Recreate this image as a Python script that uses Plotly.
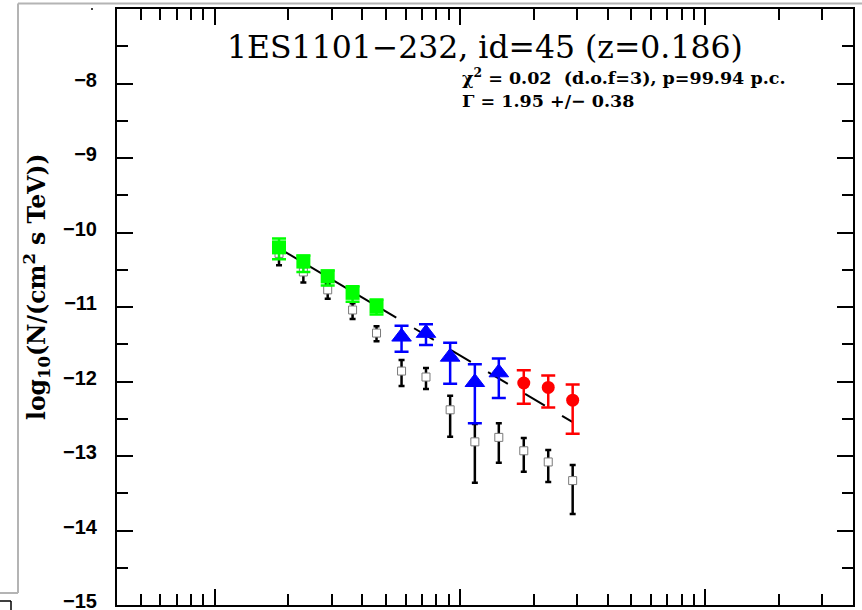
import numpy as np
import plotly.graph_objects as go

# Energy bins (TeV)
energy = [0.183, 0.230, 0.289, 0.365, 0.457, 0.578, 0.727, 0.912, 1.15, 1.44, 1.82, 2.29, 2.88]

# Observed spectrum, log10 flux
obs_flux = [-10.28, -10.53, -10.77, -11.04, -11.35, -11.86, -11.94, -12.38,
            -12.81, -12.75, -12.93, -13.08, -13.33]

# De-absorbed spectrum, split into three energy groups
green_flux = [-10.20, -10.39, -10.59, -10.81, -10.99]
blue_flux = [-11.40, -11.35, -11.67, -12.01, -11.88]
red_flux = [-12.02, -12.08, -12.25]

# Asymmetric log errors (same for observed and de-absorbed points)
err_up = [0.12, 0.08, 0.08, 0.09, 0.09, 0.15, 0.12, 0.19, 0.24, 0.19, 0.17, 0.16, 0.21]
err_dn = [0.16, 0.14, 0.12, 0.12, 0.11, 0.20, 0.16, 0.36, 0.55, 0.34, 0.28, 0.27, 0.45]

# Power-law fit: log10 N = norm_1TeV - gamma * log10(E / 1 TeV)
gamma = 1.95
norm_1tev = -11.65
fit_solid = (0.183, 0.55)
fit_dashed = (0.65, 2.87)

y_ticks = list(range(-15, -7))
y_ticklabels = ["<b>\u2212%d</b>" % (-v) for v in y_ticks]

title_text = "1ES1101\u2212232, id=45 (z=0.186)"
chi_text = "<b>\u03c7<sup>2</sup> = 0.02 \u00a0(d.o.f=3), p=99.94 p.c.</b>"
gamma_text = "<b>\u0393 = 1.95 +/\u2212 0.38</b>"
ylabel_text = "<b>log<sub>10</sub>(N/(cm<sup>2</sup> s TeV))</b>"

W, H = 862, 610
L, R, T, B = 117, 9, 9, 5
PW, PH = W - L - R, H - T - B


def px(x):
    return (x - L) / PW


def py(y):
    return (H - B - y) / PH


def powerlaw(e):
    return norm_1tev - gamma * np.log10(e)


fig = go.Figure()

fig.add_trace(go.Scatter(
    x=energy, y=obs_flux, mode="markers",
    marker=dict(symbol="square", size=8, color="white",
                line=dict(color="#7a7a7a", width=1)),
    error_y=dict(type="data", symmetric=False, array=err_up, arrayminus=err_dn,
                 color="black", thickness=2.5, width=3),
    showlegend=False,
))

e1 = np.logspace(np.log10(fit_solid[0]), np.log10(fit_solid[1]), 20)
fig.add_trace(go.Scatter(x=e1, y=powerlaw(e1), mode="lines",
                         line=dict(color="black", width=2), showlegend=False))
e2 = np.logspace(np.log10(fit_dashed[0]), np.log10(fit_dashed[1]), 40)
fig.add_trace(go.Scatter(x=e2, y=powerlaw(e2), mode="lines",
                         line=dict(color="black", width=2, dash="23px,20px"),
                         showlegend=False))

fig.add_trace(go.Scatter(
    x=energy[:5], y=green_flux, mode="markers",
    marker=dict(symbol="square", size=14, color="#00ff00"),
    error_y=dict(type="data", symmetric=False, array=err_up[:5], arrayminus=err_dn[:5],
                 color="#00ff00", thickness=2.5, width=7),
    showlegend=False,
))
fig.add_trace(go.Scatter(
    x=energy[5:10], y=blue_flux, mode="markers",
    marker=dict(symbol="triangle-up", size=17, color="#0000ff",
                line=dict(color="#0000ff", width=1)),
    error_y=dict(type="data", symmetric=False, array=err_up[5:10], arrayminus=err_dn[5:10],
                 color="#0000ff", thickness=2.5, width=7),
    showlegend=False,
))
fig.add_trace(go.Scatter(
    x=energy[10:], y=red_flux, mode="markers",
    marker=dict(symbol="circle", size=13, color="#ff0000"),
    error_y=dict(type="data", symmetric=False, array=err_up[10:], arrayminus=err_dn[10:],
                 color="#ff0000", thickness=2.5, width=7),
    showlegend=False,
))

minor_x = [m * 10.0 ** d for d in (-2, -1, 0, 1) for m in range(2, 10)
           if 0.04 <= m * 10.0 ** d <= 40]

fig.update_xaxes(
    type="log", range=[np.log10(0.04), np.log10(40)], automargin=False,
    tickmode="array", tickvals=[0.1, 1, 10], showticklabels=False,
    ticks="inside", ticklen=16, tickwidth=2, tickcolor="black",
    minor=dict(tickmode="array", tickvals=minor_x, ticks="inside",
               ticklen=11, tickwidth=2, tickcolor="black"),
    showline=True, linecolor="black", linewidth=2, mirror="ticks",
    showgrid=False, zeroline=False,
)
fig.update_yaxes(
    range=[-15, -7], automargin=False,
    tickmode="array", tickvals=y_ticks, ticktext=y_ticklabels,
    ticks="inside", ticklen=16, tickwidth=2, tickcolor="black",
    minor=dict(tickmode="linear", tick0=-15, dtick=0.5, ticks="inside",
               ticklen=11, tickwidth=2, tickcolor="black"),
    tickfont=dict(family="Liberation Sans", size=20, color="black"),
    ticklabelstandoff=14, ticklabelshift=-4, ticklabeloverflow="allow",
    showline=True, linecolor="black", linewidth=2, mirror="ticks",
    showgrid=False, zeroline=False,
)

annotations = [
    dict(text=title_text, x=0.5, y=py(47), xref="paper", yref="paper",
         xanchor="center", yanchor="middle", showarrow=False,
         font=dict(family="DejaVu Serif", size=31.5, color="black")),
    dict(text=chi_text, x=px(460), y=py(77), xref="paper", yref="paper",
         xanchor="left", yanchor="middle", showarrow=False,
         font=dict(family="DejaVu Serif", size=17.5, color="black")),
    dict(text=gamma_text, x=px(460), y=py(101), xref="paper", yref="paper",
         xanchor="left", yanchor="middle", showarrow=False,
         font=dict(family="DejaVu Serif", size=17.5, color="black")),
    dict(text=ylabel_text, x=px(37), y=py(287), xref="paper", yref="paper",
         xanchor="center", yanchor="middle", textangle=-90, showarrow=False,
         font=dict(family="DejaVu Serif", size=23.5, color="black")),
]

# window frame around the plot
frame_col = "#b4b4b4"
shapes = [
    dict(type="line", xref="paper", yref="paper", x0=px(18), x1=px(862), y0=py(3.5), y1=py(3.5),
         line=dict(color=frame_col, width=2)),
    dict(type="line", xref="paper", yref="paper", x0=px(18), x1=px(18), y0=py(3.5), y1=py(593),
         line=dict(color=frame_col, width=2)),
    dict(type="line", xref="paper", yref="paper", x0=px(0), x1=px(18), y0=py(593), y1=py(593),
         line=dict(color=frame_col, width=2)),
    dict(type="line", xref="paper", yref="paper", x0=px(0), x1=px(11), y0=py(601), y1=py(601),
         line=dict(color="black", width=1.5)),
    dict(type="line", xref="paper", yref="paper", x0=px(11), x1=px(11), y0=py(601), y1=py(610),
         line=dict(color="black", width=1.5)),
    dict(type="circle", xref="paper", yref="paper", x0=px(91), x1=px(93), y0=py(8), y1=py(10),
         fillcolor="black", line=dict(width=0)),
]

fig.update_layout(
    width=W, height=H,
    margin=dict(l=L, r=R, t=T, b=B, autoexpand=False),
    plot_bgcolor="white", paper_bgcolor="white",
    annotations=annotations, shapes=shapes,
    showlegend=False,
)

fig.write_html("out.html")
